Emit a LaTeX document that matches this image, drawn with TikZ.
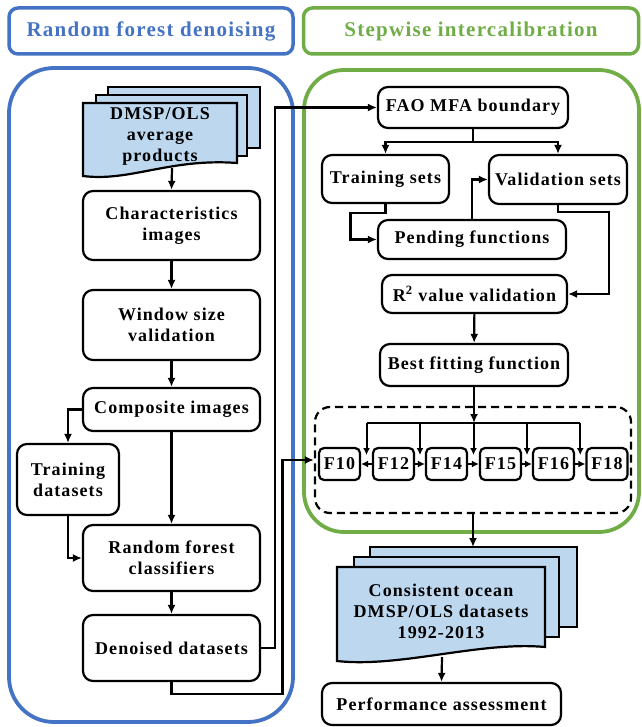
\documentclass[tikz,border=0pt]{standalone}
\usepackage{fontspec}
\setmainfont{Liberation Serif}[LetterSpace=6]
\usetikzlibrary{arrows.meta,calc}
\definecolor{bblue}{RGB}{68,114,196}
\definecolor{bgreen}{RGB}{112,173,71}
\definecolor{docfill}{RGB}{189,215,238}
\begin{document}
\begin{tikzpicture}[x=1pt,y=-1pt,
 box/.style={draw,line width=2.2pt,rounded corners=10pt,align=center,inner sep=0pt,font=\fontsize{18}{21}\selectfont\bfseries},
 fbox/.style={box,rounded corners=5pt,minimum width=41pt,minimum height=32pt},
 arr/.style={line width=2.2pt,-{Latex[length=9pt,width=8pt]}},
 sarr/.style={line width=2pt,-{Latex[length=7pt,width=7pt]}},
 ln/.style={line width=2.2pt},
 doc/.style={draw,line width=2.2pt,fill=docfill},
 txt/.style={align=center,font=\fontsize{18}{21}\selectfont\bfseries},
 ttl/.style={line width=3.5pt,rounded corners=9pt,minimum height=46pt,font=\fontsize{21}{25}\selectfont\bfseries}]
\useasboundingbox (0,0) rectangle (641,727);
% big frames
\draw[bblue,line width=3.8pt,rounded corners=45pt] (9,68) rectangle (293,722);
\draw[bgreen,line width=3.8pt,rounded corners=40pt] (304,70) rectangle (639,532);
% titles
\node[ttl,draw=bblue,text=bblue,minimum width=284pt] (t1) at (151,31) {Random forest denoising};
\node[ttl,draw=bgreen,text=bgreen,minimum width=335pt] (t2) at (471,31) {Stepwise intercalibration};
% DMSP document stack
\draw[doc] (108,87) rectangle (260,148);
\draw[doc] (96,95) rectangle (247,156);
\draw[doc] (83,103) -- (237,103) -- (237,163) .. controls (170,158) and (130,182) .. (83,176) -- cycle;
\node[txt] (dmsp) at (160,136) {DMSP/OLS\\average\\products};
\coordinate (dmspb) at (172,168);
% consistent document stack
\draw[doc] (370,547) rectangle (577,627);
\draw[doc] (354,557) rectangle (559,637);
\draw[doc] (337,567) -- (545,567) -- (545,647) .. controls (480,641) and (400,668) .. (337,661) -- cycle;
\node[txt] (cons) at (441,611) {Consistent ocean\\DMSP/OLS datasets\\1992-2013};
\coordinate (ctop) at (473,547);
\coordinate (consb) at (442,657);
% left column
\node[box,minimum width=177pt,minimum height=69pt] (char) at (171.5,225.5) {Characteristics\\images};
\node[box,minimum width=177pt,minimum height=70pt] (win) at (171.5,325) {Window size\\validation};
\node[box,minimum width=177pt,minimum height=43pt] (comp) at (171.5,409.5) {Composite images};
\node[box,minimum width=102pt,minimum height=71pt] (train) at (68,479.5) {Training\\datasets};
\node[box,minimum width=177pt,minimum height=66pt] (rf) at (171.5,558) {Random forest\\classifiers};
\node[box,minimum width=177pt,minimum height=66pt] (den) at (171.5,648) {Denoised datasets};
% right column
\node[box,minimum width=190pt,minimum height=41pt] (fao) at (473,107.5) {FAO MFA boundary};
\node[box,minimum width=127pt,minimum height=48pt] (trs) at (385.5,179) {Training sets};
\node[box,minimum width=138pt,minimum height=49pt] (vas) at (558,179.5) {Validation sets};
\node[box,minimum width=188pt,minimum height=39pt] (pend) at (472,239.5) {Pending functions};
\node[box,minimum width=185pt,minimum height=38pt] (r2) at (474.5,294) {R\textsuperscript{2} value validation};
\node[box,minimum width=188pt,minimum height=42pt] (best) at (474,365) {Best fitting function};
\node[draw,line width=2.2pt,dash pattern=on 8pt off 5pt,rounded corners=15pt,minimum width=316pt,minimum height=106pt] (dash) at (473,460) {};
\node[fbox] (f10) at (339.5,464) {F10};
\node[fbox] (f12) at (393.5,464) {F12};
\node[fbox] (f14) at (446.5,464) {F14};
\node[fbox] (f15) at (500.5,464) {F15};
\node[fbox] (f16) at (553.5,464) {F16};
\node[fbox] (f18) at (607,464) {F18};
\node[box,minimum width=239pt,minimum height=42pt] (perf) at (441.5,704) {Performance assessment};
% left connectors
\draw[arr] (dmspb) -- (char.north);
\draw[arr] (char) -- (win);
\draw[arr] (win) -- (comp);
\draw[arr] (comp.west) -| (train.north);
\draw[arr] (comp.south) -- (rf.north);
\draw[arr] (train.south) |- (rf.west);
\draw[arr] (rf) -- (den);
\draw[arr] (den.east) -- ++(14,0) |- (fao.west);
\draw[arr] (den.south) -- ++(0,12) -- ++(111,0) |- (dash.west);
% right connectors
\draw[ln] (fao.south) -- ++(0,13) coordinate (faob);
\draw[arr] (faob) -| (trs.north);
\draw[arr] (faob) -| (vas.north);
\draw[arr] (trs.south) -- ++(0,9) -- ++(-35,0) |- (pend.west);
\draw[arr] (pend.north) |- (vas.west);
\draw[arr] (vas.south) -- ++(0,7) -- ++(51,0) |- (r2.east);
\draw[arr] (r2) -- (best);
\coordinate (bus) at (474,423);
\draw[arr] (best.south) -- (best.south|-bus);
\coordinate (g1) at ($(f10.east)!.5!(f12.west)$);
\coordinate (g2) at ($(f12.east)!.5!(f14.west)$);
\coordinate (g3) at ($(f14.east)!.5!(f15.west)$);
\coordinate (g4) at ($(f15.east)!.5!(f16.west)$);
\coordinate (g5) at ($(f16.east)!.5!(f18.west)$);
\draw[ln] (g1|-bus) -- (g5|-bus);
\foreach \i in {1,...,5} \draw[sarr] (g\i|-bus) -- ($(g\i)+(0,-9)$);
\draw[sarr] (f12.west) -- (f10.east);
\draw[sarr] (f12.east) -- (f14.west);
\draw[sarr] (f14.east) -- (f15.west);
\draw[sarr] (f15.east) -- (f16.west);
\draw[sarr] (f16.east) -- (f18.west);
\draw[arr] (dash.south) -- (ctop);
\draw[arr] (consb) -- (perf.north);
\end{tikzpicture}
\end{document}
